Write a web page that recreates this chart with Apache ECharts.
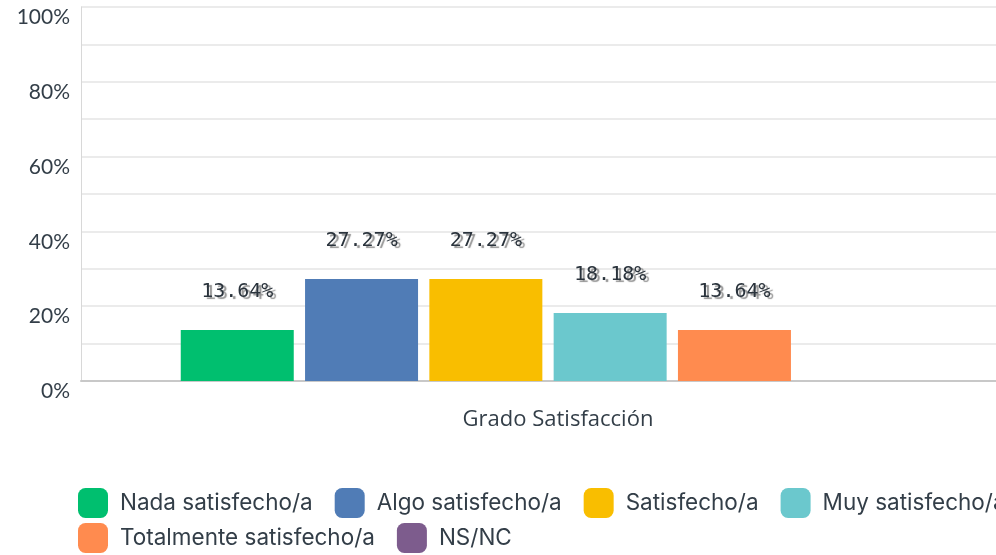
<!DOCTYPE html>
<html>
<head>
<meta charset="utf-8">
<script src="https://cdn.jsdelivr.net/npm/echarts@6/dist/echarts.min.js"></script>
<style>
  html, body { margin: 0; padding: 0; background: #fff; overflow: hidden; }
  /* el gráfico original está recortado por la derecha */
  #chart { width: 1015px; height: 555px; }
</style>
</head>
<body>
<div id="chart"></div>
<script>
  // datos
  var categories = ['Grado Satisfacción'];
  var seriesNames = ['Nada satisfecho/a', 'Algo satisfecho/a', 'Satisfecho/a', 'Muy satisfecho/a', 'Totalmente satisfecho/a', 'NS/NC'];
  var seriesValues = [13.64, 27.27, 27.27, 18.18, 13.64, 0];
  var seriesColors = ['#00bf6f', '#507cb6', '#f9be00', '#6bc8cd', '#ff8b4f', '#7d5c8d'];

  var chart = echarts.init(document.getElementById('chart'));

  var series = seriesNames.map(function (name, i) {
    return {
      name: name,
      type: 'bar',
      data: [seriesValues[i]],
      barWidth: 113,
      barGap: '10%',
      itemStyle: { color: seriesColors[i] },
      label: {
        show: seriesValues[i] > 0,
        position: 'top',
        distance: 28,
        formatter: function (p) { return p.value.toFixed(2) + '%'; },
        fontFamily: 'DejaVu Sans Mono',
        fontSize: 20,
        color: '#2a333c',
        textShadowColor: 'rgba(110,110,110,0.75)',
        textShadowBlur: 1,
        textShadowOffsetX: 3,
        textShadowOffsetY: 2
      }
    };
  });

  // la leyenda va en dos filas muy juntas
  var legendStyle = {
    itemWidth: 30,
    itemHeight: 30,
    itemGap: 22,
    padding: 0,
    icon: 'roundRect',
    textStyle: {
      fontFamily: 'Inter',
      fontSize: 22.5,
      color: '#333e48',
      padding: [0, 0, 0, 7]
    }
  };

  var option = {
    backgroundColor: '#fff',
    animation: false,
    grid: {
      left: 81,
      right: 0,
      top: 7,
      bottom: 174
    },
    legend: [
      Object.assign({ left: 78, top: 488, width: 1200, data: seriesNames.slice(0, 4) }, legendStyle),
      Object.assign({ left: 78, top: 523, width: 1200, data: seriesNames.slice(4) }, legendStyle)
    ],
    xAxis: {
      type: 'category',
      data: categories,
      axisTick: { show: false },
      axisLine: { lineStyle: { color: '#c8c8c8', width: 2 } },
      axisLabel: {
        margin: 28,
        fontFamily: 'Open Sans',
        fontSize: 22,
        color: '#333e48',
        padding: [0, 0, 0, 20]
      }
    },
    yAxis: {
      type: 'value',
      min: 0,
      max: 100,
      interval: 10,
      axisLine: { show: true, lineStyle: { color: '#d8d8d8', width: 1 } },
      axisTick: { show: false },
      splitLine: { lineStyle: { color: '#ebebeb', width: 2 } },
      axisLabel: {
        margin: 11,
        fontFamily: 'Lato',
        fontSize: 21,
        color: '#333e48',
        verticalAlign: 'top',
        formatter: function (v) { return v % 20 === 0 ? v + '%' : ''; }
      }
    },
    series: series
  };

  chart.setOption(option);
  window.addEventListener('resize', function () { chart.resize(); });
</script>
</body>
</html>
